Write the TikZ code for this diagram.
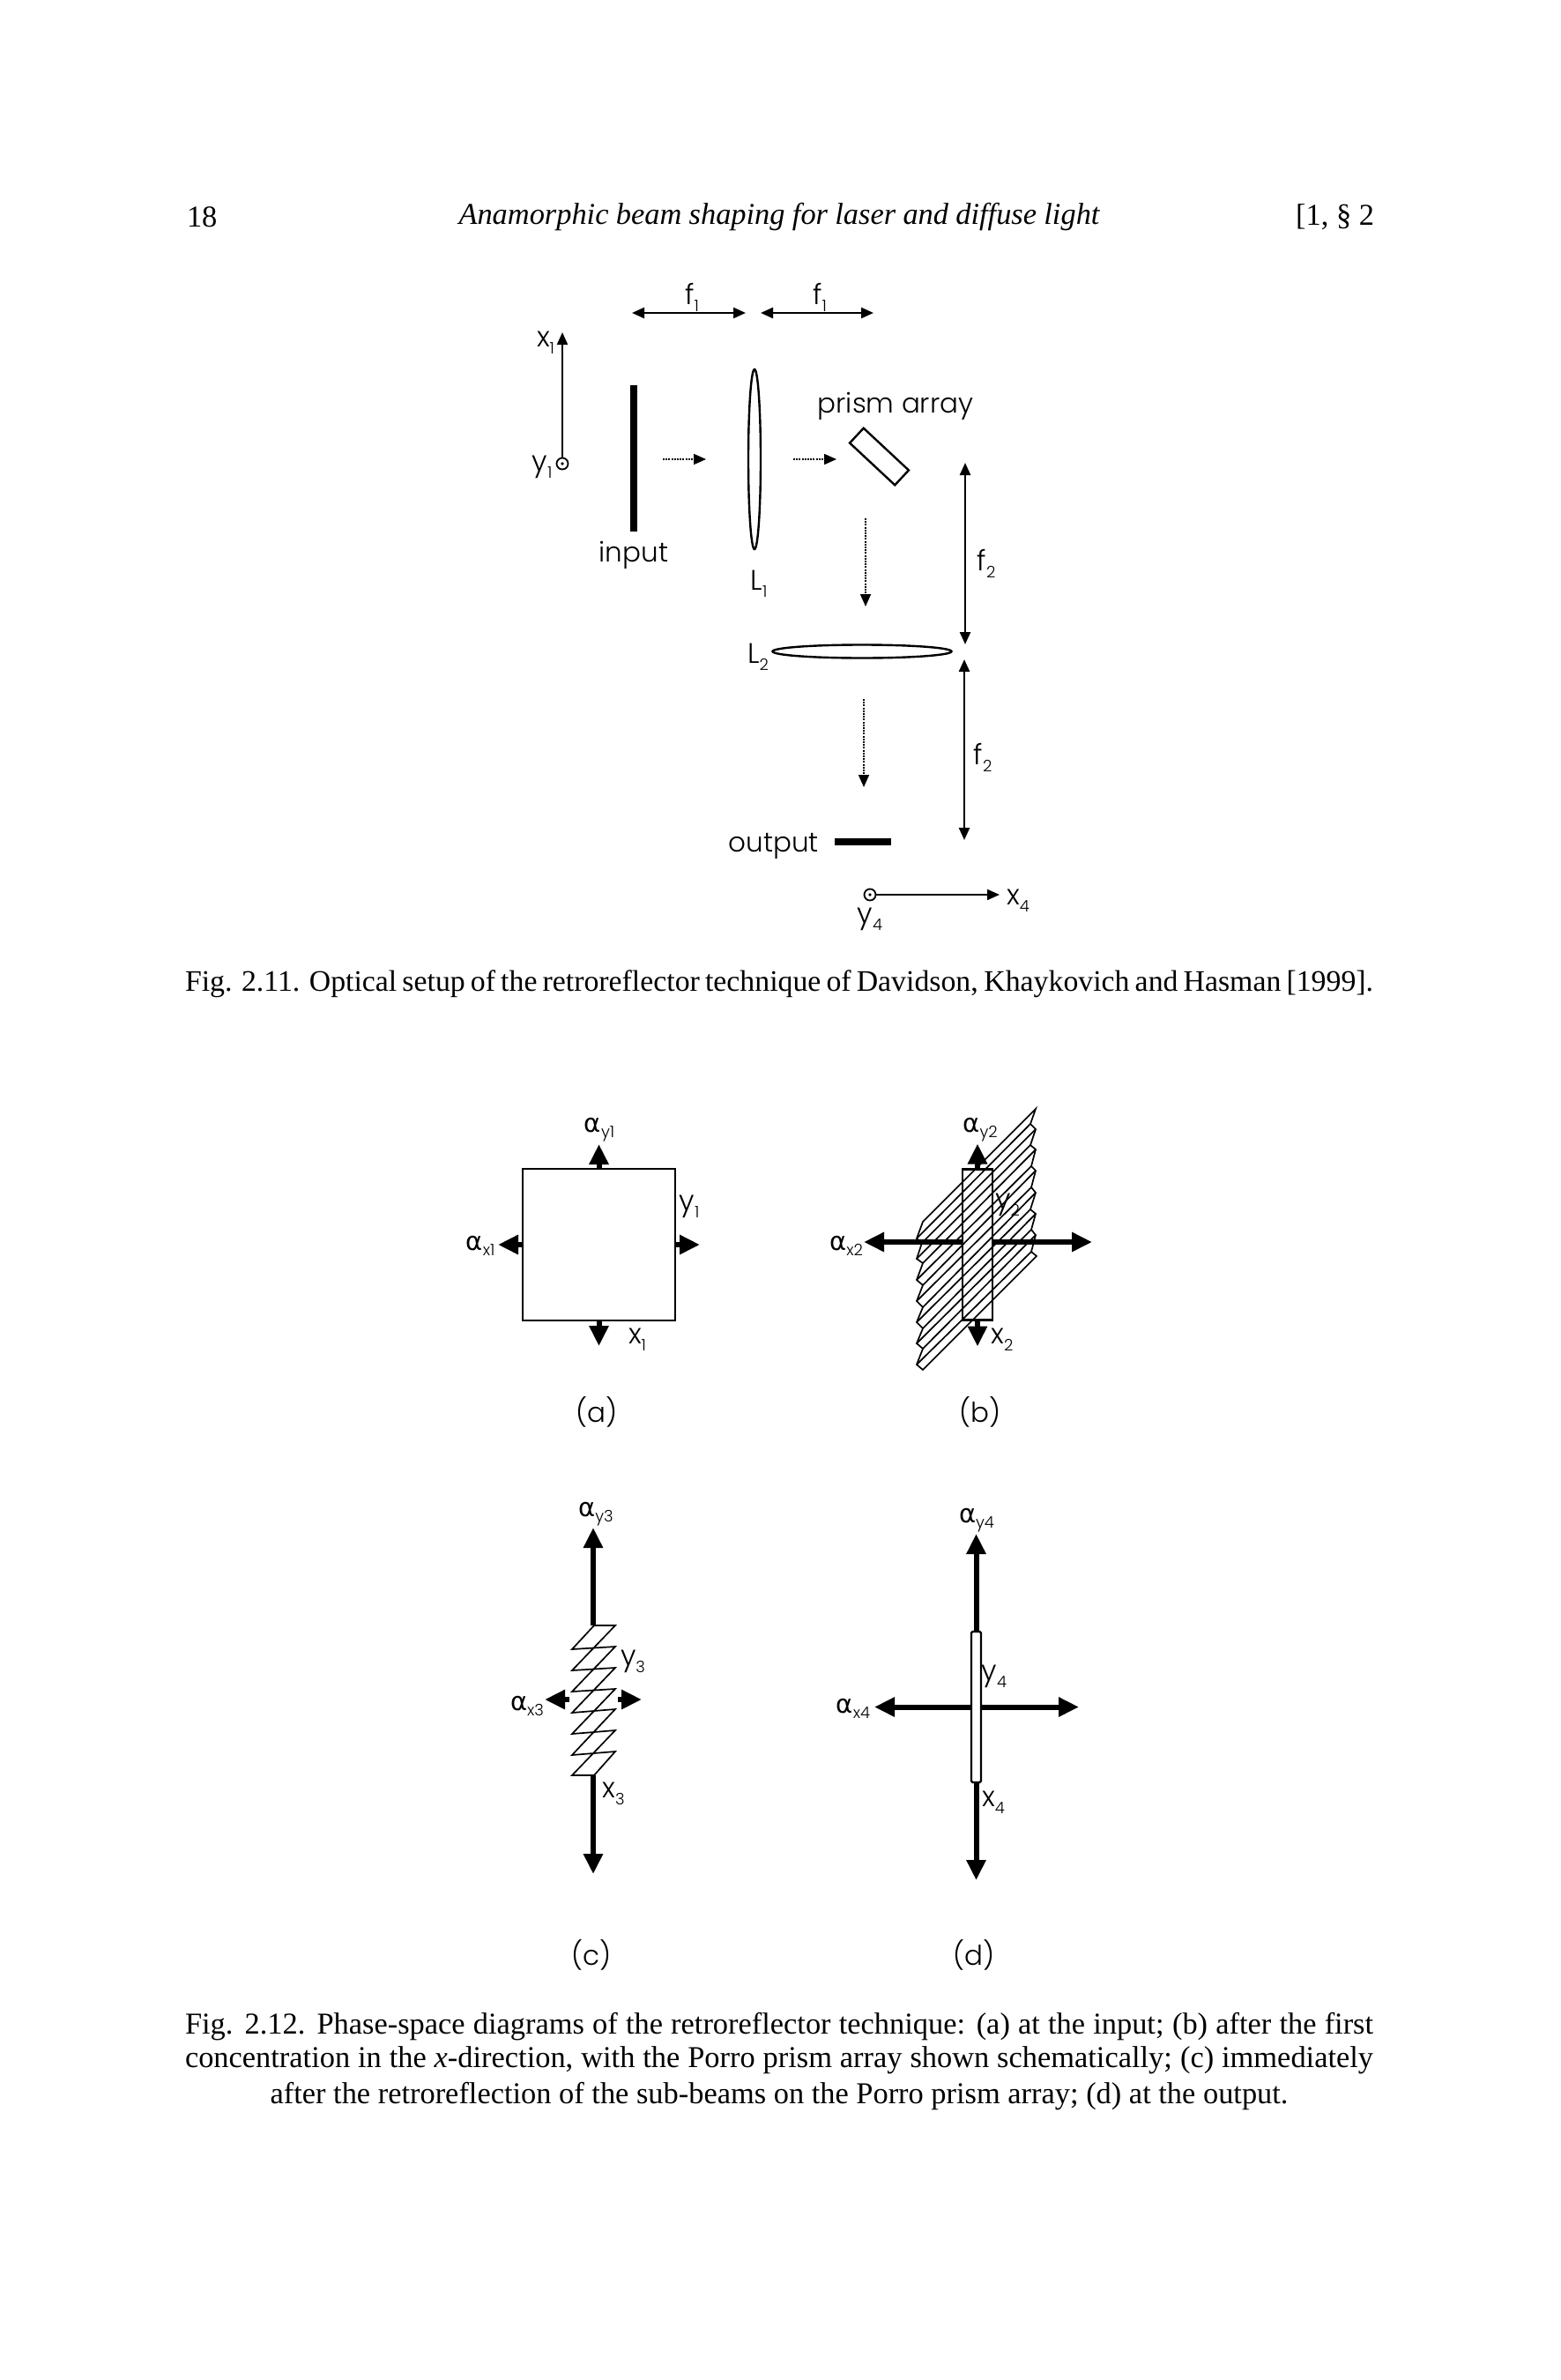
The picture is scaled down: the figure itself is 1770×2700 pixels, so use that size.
\documentclass[tikz,border=0pt]{standalone}
\usepackage{fontspec}
\setmainfont{Liberation Serif}
\newfontfamily\figfont{Poppins}[UprightFont=* Light]
\newfontfamily\greekfont{DejaVu Sans}
\usetikzlibrary{shapes.geometric, arrows.meta, positioning}
\newcommand{\subl}[2]{#1\raisebox{-8pt}{\fontsize{18}{18}\selectfont #2}}
\newcommand{\alp}[1]{{\greekfont\fontsize{29}{29}\selectfont α}\raisebox{-6pt}{\fontsize{18}{18}\selectfont #1}}
\newcommand{\capline}[2]{\makebox[#1pt][s]{#2}}

\begin{document}
\begin{tikzpicture}[x=1pt, y=-1pt,
    every node/.style={inner sep=0pt, outer sep=0pt},
    pagetext/.style={font=\fontsize{34.4}{38}\selectfont},
    figlabel/.style={font=\figfont\fontsize{31}{36}\selectfont},
    axislabel/.style={font=\figfont\fontsize{32}{34}\selectfont},
    alphalabel/.style={font=\figfont},
    barbox/.style={rectangle, fill=black, draw=none},
    lensbox/.style={ellipse, draw, line width=2.4pt},
    axisdot/.style={circle, draw, line width=1.8pt, minimum size=13pt},
    phasebox/.style={rectangle, draw, line width=2.4pt},
    thinarrow/.style={line width=2pt, -{Triangle[length=14pt, width=12pt]}},
    bothways/.style={line width=2.4pt, {Triangle[length=14pt, width=12pt]}-{Triangle[length=14pt, width=12pt]}},
    dotarrow/.style={line width=1.6pt, dash pattern=on 2pt off 1.2pt, -{Triangle[length=14pt, width=12pt]}},
    fatarrow/.style={line width=6pt, -{Triangle[length=23pt, width=21pt]}},
    hatchline/.style={line width=1.7pt}
  ]
    \useasboundingbox (0,0) rectangle (1770,2700);

    % Page head
    \node[pagetext, anchor=west] (PageNo) at (212,246) {18};
    \node[pagetext] (PageTitle) at (884,246) {\itshape\capline{727}{Anamorphic beam shaping for laser and diffuse light}};
    \node[pagetext, anchor=east] (PageSec) at (1559,246) {[1, \S\ 2};

    % Optical setup
    \node[barbox, minimum width=8pt, minimum height=166pt] (Input) at (719,520) {};
    \node[figlabel, below=11pt of Input] (InputText) {input};
    \node[lensbox, minimum width=14pt, minimum height=204pt] (L1) at (856,521) {};
    \node[axislabel] (L1Text) at (861,662) {\subl{L}{1}};
    \node[draw, rectangle, line width=2.4pt, minimum width=70pt, minimum height=23pt, rotate=-43] (Prism) at (997.5,518) {};
    \node[figlabel] (PrismText) at (1016,461) {prism array};
    \node[lensbox, minimum width=203pt, minimum height=15pt] (L2) at (978,739) {};
    \node[axislabel] (L2Text) at (860,745) {\subl{L}{2}};
    \node[barbox, minimum width=64pt, minimum height=8pt] (Output) at (979,955) {};
    \node[figlabel, anchor=east] (OutputText) at (929,960) {output};

    % Dotted rays
    \coordinate (RayA) at (752,521);
    \coordinate (RayB) at (801,521);
    \coordinate (RayC) at (900,521);
    \coordinate (RayD) at (949,521);
    \coordinate (RayE) at (982,588);
    \coordinate (RayF) at (982,688);
    \coordinate (RayG) at (980,793);
    \coordinate (RayH) at (980,893);
    \draw[dotarrow] (RayA) -- (RayB);
    \draw[dotarrow] (RayC) -- (RayD);
    \draw[dotarrow] (RayE) -- (RayF);
    \draw[dotarrow] (RayG) -- (RayH);

    % Focal distances
    \coordinate (FA) at (717,355);
    \coordinate (FB) at (846,355);
    \coordinate (FC) at (863,355);
    \coordinate (FD) at (991,355);
    \coordinate (FE) at (1095,525);
    \coordinate (FF) at (1095,731);
    \coordinate (FG) at (1094,748);
    \coordinate (FH) at (1094,953);
    \draw[bothways] (FA) -- (FB);
    \draw[bothways] (FC) -- (FD);
    \draw[bothways] (FE) -- (FF);
    \draw[bothways] (FG) -- (FH);
    \node[axislabel] (F1a) at (785,337) {\subl{f}{1}};
    \node[axislabel] (F1b) at (930,337) {\subl{f}{1}};
    \node[axislabel] (F2a) at (1119,639) {\subl{f}{2}};
    \node[axislabel] (F2b) at (1115,859) {\subl{f}{2}};

    % Axes
    \node[axisdot] (Dot1) at (638,526) {};
    \fill (Dot1) circle (1.8pt);
    \coordinate (Tip1) at (638,377);
    \draw[thinarrow] (Dot1) -- (Tip1);
    \node[axislabel] (X1Text) at (619,389) {\subl{x}{1}};
    \node[axislabel] (Y1Text) at (615,530) {\subl{y}{1}};
    \node[axisdot] (Dot4) at (987,1015) {};
    \fill (Dot4) circle (1.8pt);
    \coordinate (Tip4) at (1134,1015);
    \draw[thinarrow] (Dot4) -- (Tip4);
    \node[axislabel] (X4Text) at (1155,1022) {\subl{x}{4}};
    \node[axislabel] (Y4Text) at (987,1043) {\subl{y}{4}};

    \node[pagetext, font=\fontsize{33.8}{38}\selectfont] (CapA) at (884,1116) {\capline{1348}{Fig. 2.11. Optical setup of the retroreflector technique of Davidson, Khaykovich and Hasman [1999].}};

    % Panel (a)
    \node[phasebox, minimum width=173pt, minimum height=172pt] (BoxA) at (679.5,1412) {};
    \coordinate[above=28pt of BoxA.north] (BoxAN);
    \coordinate[below=29pt of BoxA.south] (BoxAS);
    \coordinate[left=28pt of BoxA.west] (BoxAW);
    \coordinate[right=28pt of BoxA.east] (BoxAE);
    \draw[fatarrow] (BoxA.north) -- (BoxAN);
    \draw[fatarrow] (BoxA.south) -- (BoxAS);
    \draw[fatarrow] (BoxA.west) -- (BoxAW);
    \draw[fatarrow] (BoxA.east) -- (BoxAE);
    \node[alphalabel] (AyA) at (680,1282) {\alp{y1}};
    \node[alphalabel] (AxA) at (545,1413) {\alp{x1}};
    \node[axislabel] (YA) at (782,1369) {\subl{y}{1}};
    \node[axislabel] (XA) at (723,1520) {\subl{x}{1}};
    \node[figlabel] (TagA) at (677,1602) {(a)};

    % Panel (b)
    \draw[hatchline] (1047,1386) -- (1175,1258) -- (1169,1275) -- (1175,1281) -- (1169,1299) -- (1175,1304) -- (1170,1323) -- (1175,1328) -- (1170,1347) -- (1175,1353) -- (1169,1372) -- (1175,1377) -- (1170,1395) -- (1175,1401) -- (1170,1420) -- (1176,1425) -- (1047,1554) -- (1040,1548) -- (1047,1530) -- (1040,1524) -- (1047,1507) -- (1040,1500) -- (1047,1483) -- (1040,1476) -- (1047,1458) -- (1040,1452) -- (1047,1433) -- (1040,1428) -- (1046,1410) -- (1040,1405) -- cycle;
    \draw[hatchline] (1040,1548) -- (1170,1420) (1047,1530) -- (1175,1401) (1040,1524) -- (1170,1395);
    \draw[hatchline] (1047,1507) -- (1175,1377) (1040,1500) -- (1169,1372) (1047,1483) -- (1175,1353);
    \draw[hatchline] (1040,1476) -- (1170,1347) (1047,1458) -- (1175,1328) (1040,1452) -- (1170,1323);
    \draw[hatchline] (1047,1433) -- (1175,1304) (1040,1428) -- (1169,1299) (1046,1410) -- (1175,1281);
    \draw[hatchline] (1040,1405) -- (1169,1275);
    \node[phasebox, line width=2.8pt, minimum width=34pt, minimum height=171pt] (BoxB) at (1109,1412) {};
    \coordinate[above=29pt of BoxB.north] (BoxBN);
    \coordinate[below=30pt of BoxB.south] (BoxBS);
    \coordinate (BoxBW) at (980,1409);
    \coordinate (BoxBE) at (1239,1409);
    \coordinate (BoxBL) at (BoxB.west |- BoxBW);
    \coordinate (BoxBR) at (BoxB.east |- BoxBE);
    \draw[fatarrow] (BoxB.north) -- (BoxBN);
    \draw[fatarrow] (BoxB.south) -- (BoxBS);
    \draw[fatarrow] (BoxBL) -- (BoxBW);
    \draw[fatarrow] (BoxBR) -- (BoxBE);
    \node[alphalabel] (AyB) at (1112,1282) {\alp{y2}};
    \node[alphalabel] (AxB) at (960,1413) {\alp{x2}};
    \node[axislabel] (YB) at (1143,1367) {\subl{y}{2}};
    \node[axislabel] (XB) at (1137,1520) {\subl{x}{2}};
    \node[figlabel] (TagB) at (1112,1602) {(b)};

    % Panel (c)
    \draw[hatchline] (674,1844) -- (698,1844) -- (649,1895) -- (698,1892) -- (649,1943) -- (698,1939) -- (649,1991) -- (698,1987) -- (674,2014) -- (649,2014) -- (698,1963) -- (649,1967) -- (698,1916) -- (649,1919) -- (698,1868) -- (649,1871) -- cycle;
    \coordinate (ZigN) at (673,1844);
    \coordinate (ZigS) at (673,2014);
    \coordinate (ZigW) at (646,1928);
    \coordinate (ZigE) at (701,1928);
    \coordinate[above=111pt of ZigN] (TipCN);
    \coordinate[below=112pt of ZigS] (TipCS);
    \coordinate[left=28pt of ZigW] (TipCW);
    \coordinate[right=27pt of ZigE] (TipCE);
    \draw[fatarrow] (ZigN) -- (TipCN);
    \draw[fatarrow] (ZigS) -- (TipCS);
    \draw[fatarrow] (ZigW) -- (TipCW);
    \draw[fatarrow] (ZigE) -- (TipCE);
    \node[alphalabel] (AyC) at (676,1718) {\alp{y3}};
    \node[alphalabel] (AxC) at (598,1935) {\alp{x3}};
    \node[axislabel] (YC) at (718,1885) {\subl{y}{3}};
    \node[axislabel] (XC) at (696,2035) {\subl{x}{3}};
    \node[figlabel] (TagC) at (671,2218) {(c)};

    % Panel (d)
    \node[phasebox, rounded corners=1.5pt, minimum width=11pt, minimum height=171pt] (BoxD) at (1107.5,1936.5) {};
    \coordinate[above=111pt of BoxD.north] (BoxDN);
    \coordinate[below=111pt of BoxD.south] (BoxDS);
    \coordinate[left=110pt of BoxD.west] (BoxDW);
    \coordinate[right=111pt of BoxD.east] (BoxDE);
    \draw[fatarrow] (BoxD.north) -- (BoxDN);
    \draw[fatarrow] (BoxD.south) -- (BoxDS);
    \draw[fatarrow] (BoxD.west) -- (BoxDW);
    \draw[fatarrow] (BoxD.east) -- (BoxDE);
    \node[alphalabel] (AyD) at (1108,1725) {\alp{y4}};
    \node[alphalabel] (AxD) at (968,1938) {\alp{x4}};
    \node[axislabel] (YD) at (1128,1902) {\subl{y}{4}};
    \node[axislabel] (XD) at (1127,2045) {\subl{x}{4}};
    \node[figlabel] (TagD) at (1105,2218) {(d)};

    % Lower caption
    \node[pagetext] (CapB) at (884,2299) {\capline{1348}{Fig. 2.12. Phase-space diagrams of the retroreflector technique: (a) at the input; (b) after the first}};
    \node[pagetext] (CapC) at (884,2337) {\capline{1348}{concentration in the \textit{x}-direction, with the Porro prism array shown schematically; (c) immediately}};
    \node[pagetext] (CapD) at (884,2378) {after the retroreflection of the sub-beams on the Porro prism array; (d) at the output.};

\end{tikzpicture}
\end{document}
